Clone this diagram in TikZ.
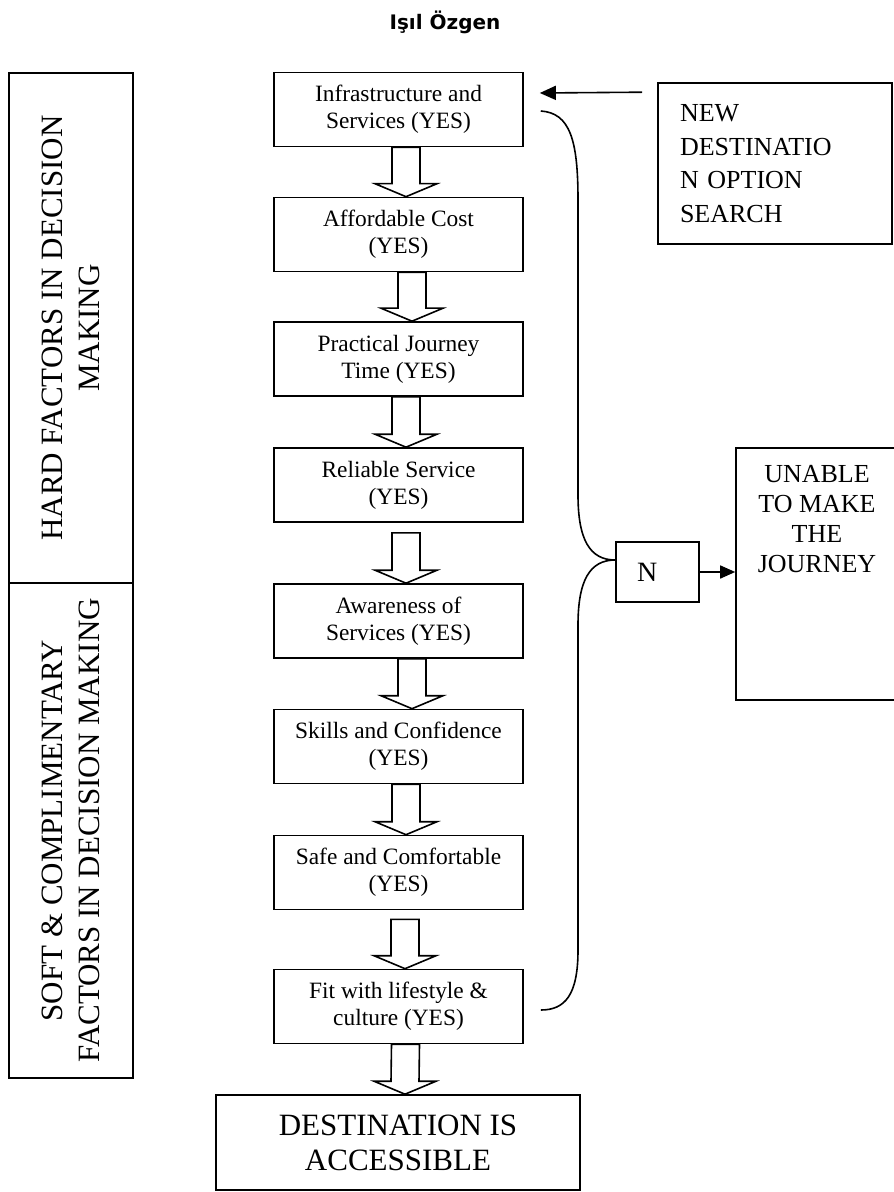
\documentclass[tikz,border=0pt]{standalone}
\usepackage{fontspec}
\setmainfont{Liberation Serif}
\newfontfamily\headfont{DejaVu Sans}
\usetikzlibrary{arrows.meta}
\usetikzlibrary{positioning}

\tikzset{
  stepbox/.style={rectangle,draw=black,line width=0.8pt,minimum width=124.5pt,minimum height=37pt,align=center,font=\fontsize{11.7}{13.5}\selectfont},
  sidebox/.style={rectangle,draw=black,line width=0.8pt,rotate=90,minimum height=62pt,align=center,font=\fontsize{15.5}{18.5}\selectfont},
  bigbox/.style={rectangle,draw=black,line width=0.8pt,minimum width=182pt,minimum height=47.5pt,align=center,font=\fontsize{15.5}{17.5}\selectfont},
  searchbox/.style={rectangle,draw=black,line width=0.8pt,minimum width=117pt,minimum height=80.5pt,inner xsep=11pt,text width=95pt,align=left,font=\fontsize{13}{16.8}\selectfont},
  nobox/.style={rectangle,draw=black,line width=0.8pt,minimum width=41.5pt,minimum height=30pt,inner xsep=10.5pt,text width=20.5pt,align=left,font=\fontsize{14}{16}\selectfont},
  yesarrow/.style={draw=black,line width=0.8pt,fill=white},
  noline/.style={draw=black,line width=0.8pt},
  noarrow/.style={draw=black,line width=0.8pt,-{Triangle[length=8pt,width=7pt]}},
  unarrow/.style={draw=black,line width=0.8pt,-{Triangle[length=7.5pt,width=6.5pt]}}
}

\newcommand{\fatarrow}[4]{%
\draw[yesarrow] ([xshift=#3pt-7pt,yshift=-#4pt]#1.south) -- ([xshift=#3pt-7pt,yshift=6.5pt]#2.north) -- ([xshift=#3pt-15.5pt,yshift=6.5pt]#2.north) -- ([xshift=#3pt]#2.north) -- ([xshift=#3pt+15.5pt,yshift=6.5pt]#2.north) -- ([xshift=#3pt+7pt,yshift=6.5pt]#2.north) -- ([xshift=#3pt+7pt,yshift=-#4pt]#1.south) -- cycle;}

\begin{document}
\begin{tikzpicture}[x=0.5pt,y=-0.5pt]
\useasboundingbox (0,0) rectangle (893,1192);
\node at (445,30)[anchor=base,font=\headfont\bfseries\fontsize{10}{12}\selectfont](title){Işıl Özgen};
\node at (71,328)[sidebox,minimum width=255pt](hard){HARD FACTORS IN DECISION\\MAKING};
\node at (71,830.5)[sidebox,minimum width=247.5pt](soft){SOFT \& COMPLIMENTARY\\FACTORS IN DECISION MAKING};
\node at (398.5,109.5)[stepbox](infra){Infrastructure and\\Services (YES)};
\node at (398.5,234.5)[stepbox](afford){Affordable Cost\\(YES)};
\node at (398.5,359)[stepbox](practical){Practical Journey\\Time (YES)};
\node at (398.5,485)[stepbox](reliable){Reliable Service\\(YES)};
\node at (398.5,621)[stepbox](aware){Awareness of\\Services (YES)};
\node at (398.5,746.5)[stepbox](skills){Skills and Confidence\\(YES)};
\node at (398.5,872.5)[stepbox](safe){Safe and Comfortable\\(YES)};
\node at (398.5,1006.5)[stepbox](fit){Fit with lifestyle \&\\culture (YES)};
\node at (398,1142.5)[bigbox](dest){DESTINATION IS\\ACCESSIBLE};
\node at (775,163.5)[searchbox](newdest){NEW\\DESTINATIO\\N OPTION\\SEARCH};
\node at (657.5,572)[nobox](no){N};
\node at (817,574)[draw=black,line width=0.8pt,inner sep=0pt,font=\fontsize{13}{15}\selectfont](unable){\parbox[c][126pt][t]{81pt}{\centering\rule{0pt}{17pt}UNABLE\\TO MAKE\\THE\\JOURNEY}};

\fatarrow{infra}{afford}{3.75}{0}
\fatarrow{afford}{practical}{6.75}{0}
\fatarrow{practical}{reliable}{3.75}{0}
\fatarrow{reliable}{aware}{3.75}{5}
\fatarrow{aware}{skills}{6.75}{0}
\fatarrow{skills}{safe}{3.75}{0}
\fatarrow{safe}{fit}{3.25}{4.5}
\fatarrow{fit}{dest}{3.5}{0}

\coordinate (bt) at ([xshift=8.5pt,yshift=-0.75pt]infra.east);
\coordinate (bb) at ([xshift=8.5pt,yshift=-1.75pt]fit.east);
\coordinate (bn) at ([yshift=6pt]no.west);
\draw[noline] (bt) .. controls (570,113) and (578,140) .. (578,200) -- (578,495) .. controls (578,540) and (590,560) .. (bn);
\draw[noline] (bn) .. controls (590,560) and (578,580) .. (578,625) -- (578,950) .. controls (578,995) and (565,1010) .. (bb);

\coordinate (na) at ([xshift=-7.5pt,yshift=-5pt]newdest.north west);
\coordinate (nb) at ([xshift=8pt,yshift=8.25pt]infra.east);
\draw[noarrow] (na) -- (nb);
\draw[unarrow] (no.east) -- (no.east -| unable.west);
\end{tikzpicture}
\end{document}
